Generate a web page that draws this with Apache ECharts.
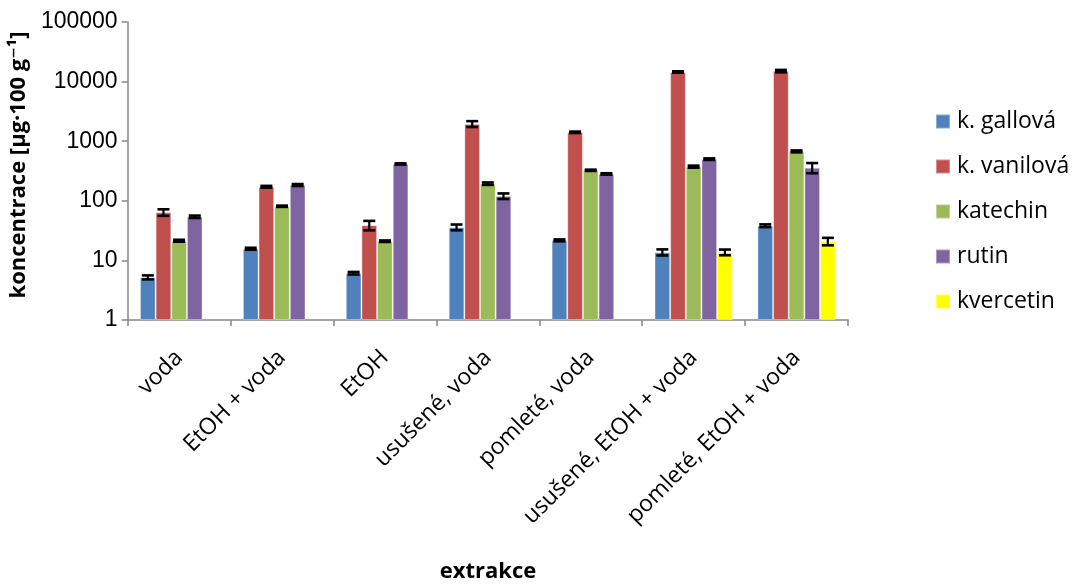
<!DOCTYPE html>
<html>
<head>
<meta charset="utf-8">
<script src="https://cdn.jsdelivr.net/npm/echarts@6/dist/echarts.min.js"></script>
<style>
  html, body { margin: 0; padding: 0; background: #fff; }
  #chart { width: 1073px; height: 586px; }
</style>
</head>
<body>
<div id="chart"></div>
<script>
// Extraction methods (x categories)
const categories = ['voda', 'EtOH + voda', 'EtOH', 'usušené, voda', 'pomleté, voda', 'usušené, EtOH + voda', 'pomleté, EtOH + voda'];

// Concentrations in µg per 100 g, with their error (±)
const gallova      = [5.2, 15.7, 6.1, 36, 21.7, 13.7, 38.2];
const gallovaErr   = [0.4, 0.6, 0.3, 4, 0.8, 1.6, 2];
const vanilova     = [64, 172, 39, 1950, 1410, 14500, 15000];
const vanilovaErr  = [8, 6, 7, 220, 40, 400, 700];
const katechin     = [21.4, 81, 21, 194, 325, 374, 675];
const katechinErr  = [0.8, 2, 0.6, 9, 8, 15, 25];
const rutin        = [54, 184, 415, 120, 282, 500, 360];
const rutinErr     = [2.5, 7, 10, 13, 8, 15, 70];
const kvercetin    = [null, null, null, null, null, 13.7, 20.9];
const kvercetinErr = [null, null, null, null, null, 1.5, 3];

// Y axis decade ticks
const yTicks = [1, 10, 100, 1000, 10000, 100000];

const seriesDefs = [
  { name: 'k. gallová',  values: gallova,   errors: gallovaErr,   color: '#4F81BD' },
  { name: 'k. vanilová', values: vanilova,  errors: vanilovaErr,  color: '#C0504D' },
  { name: 'katechin',    values: katechin,  errors: katechinErr,  color: '#9BBB59' },
  { name: 'rutin',       values: rutin,     errors: rutinErr,     color: '#8064A2' },
  { name: 'kvercetin',   values: kvercetin, errors: kvercetinErr, color: '#FFFF00' }
];

const FONT = '"Open Sans", "DejaVu Sans", sans-serif';
const NUM_FONT = '"Liberation Sans", Arial, sans-serif';
const BAR_FRACTION = 0.152; // bar width as a share of the category band
const nSeries = seriesDefs.length;

const chart = echarts.init(document.getElementById('chart'), null, { renderer: 'canvas' });

const barSeries = seriesDefs.map(s => ({
  name: s.name,
  type: 'bar',
  data: s.values,
  barWidth: (BAR_FRACTION * 100) + '%',
  barGap: '0%',
  itemStyle: { color: s.color, borderColor: 'rgba(255,255,255,0.35)', borderWidth: 1 },
  z: 2
}));

// Error bars drawn over each bar, using the same axis scales
const errorSeries = seriesDefs.map((s, si) => ({
  name: s.name + '-err',
  type: 'custom',
  z: 5,
  silent: true,
  data: s.values.map((v, i) => v == null ? null : [i, v - s.errors[i], v + s.errors[i]]).filter(d => d),
  renderItem: function (params, api) {
    const band = api.size([1, 0])[0];
    const bw = band * BAR_FRACTION;
    const offset = (si - (nSeries - 1) / 2) * bw;
    const lo = api.coord([api.value(0), api.value(1)]);
    const hi = api.coord([api.value(0), api.value(2)]);
    const x = lo[0] + offset;
    const cap = 6;
    return {
      type: 'group',
      children: [
        { type: 'line', shape: { x1: x, y1: hi[1], x2: x, y2: lo[1] }, style: { stroke: '#000', lineWidth: 2.2 } },
        { type: 'line', shape: { x1: x - cap, y1: hi[1], x2: x + cap, y2: hi[1] }, style: { stroke: '#000', lineWidth: 2.6 } },
        { type: 'line', shape: { x1: x - cap, y1: lo[1], x2: x + cap, y2: lo[1] }, style: { stroke: '#000', lineWidth: 2.6 } }
      ]
    };
  }
}));

const option = {
  animation: false,
  backgroundColor: '#fff',
  textStyle: { fontFamily: FONT },
  grid: { left: 124, right: 225, top: 22, bottom: 266, containLabel: false },
  legend: {
    orient: 'vertical',
    left: 935,
    top: 110,
    padding: 0,
    itemWidth: 14,
    itemHeight: 14,
    itemGap: 22,
    icon: 'rect',
    data: seriesDefs.map(s => s.name),
    textStyle: { fontSize: 23, color: '#000', fontFamily: FONT, padding: [0, 0, 0, 2] }
  },
  xAxis: {
    type: 'category',
    data: categories,
    axisLine: { lineStyle: { color: '#868686', width: 1.5 } },
    axisTick: { show: true, alignWithLabel: false, length: 6, lineStyle: { color: '#868686', width: 1.5 } },
    axisLabel: { rotate: 45, margin: 34, fontSize: 23, color: '#000', fontFamily: FONT, interval: 0 }
  },
  yAxis: {
    type: 'log',
    logBase: 10,
    min: yTicks[0],
    max: yTicks[yTicks.length - 1],
    name: 'koncentrace [µg·100 g⁻¹]',
    nameLocation: 'middle',
    nameGap: 73,
    nameTextStyle: { fontSize: 22, fontWeight: 'bold', color: '#000', fontFamily: FONT, padding: [0, 0, 0, 12] },
    axisLine: { show: true, lineStyle: { color: '#868686', width: 1.5 } },
    axisTick: { show: true, length: 6, inside: false, lineStyle: { color: '#868686', width: 1.5 } },
    splitLine: { show: false },
    minorTick: { show: false },
    axisLabel: { fontSize: 23, color: '#000', margin: 10, fontFamily: NUM_FONT, formatter: v => String(v) }
  },
  graphic: [{
    type: 'text',
    x: 488,
    y: 572,
    style: { text: 'extrakce', fontSize: 22, fontWeight: 'bold', fill: '#000', fontFamily: FONT, textAlign: 'center', textVerticalAlign: 'middle' }
  }],
  series: barSeries.concat(errorSeries)
};

chart.setOption(option);
</script>
</body>
</html>
